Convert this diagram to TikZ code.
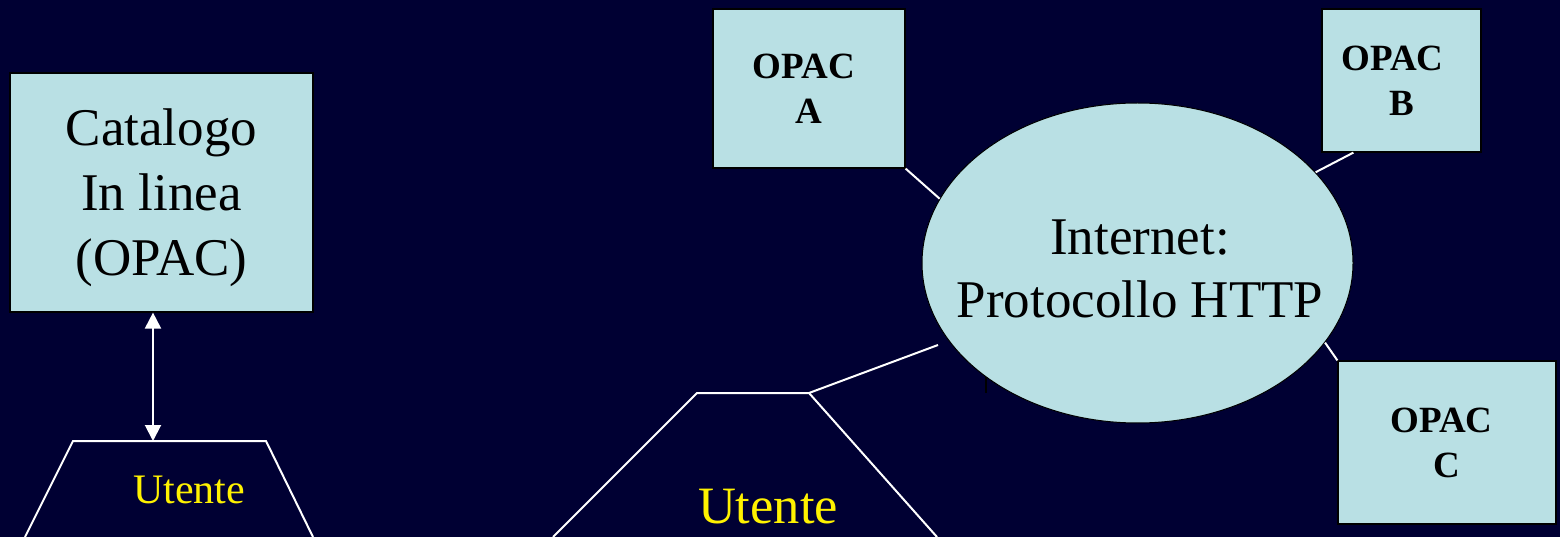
\documentclass[tikz,border=0pt]{standalone}
\usepackage{fontspec}
\setmainfont{Liberation Serif}
\usetikzlibrary{arrows.meta,shapes.geometric,calc}
\definecolor{bgnavy}{RGB}{0,0,51}
\definecolor{boxcyan}{RGB}{185,224,228}
\begin{document}
\begin{tikzpicture}[x=1pt,y=-1pt,
  box/.style={draw=black,line width=1.2pt,fill=boxcyan,inner sep=0pt,rectangle},
  opac/.style={box,font=\fontsize{37}{45}\selectfont\bfseries,align=center,text=black},
  wline/.style={draw=white,line width=2pt},
  bigtext/.style={font=\fontsize{53}{64}\selectfont,align=center,text=black,inner sep=0pt},
  utente/.style={text=yellow,anchor=base,inner sep=0pt},
  tip/.style={Triangle[width=16pt,length=16pt]}
  ]
\useasboundingbox (0,0) rectangle (1560,537);
\fill[bgnavy] (0,0) rectangle (1560,537);

% left part
\node[box,minimum width=303pt,minimum height=239pt] (cat) at (161.5,192.5) {};
\node[bigtext,font=\fontsize{53}{65}\selectfont] (cattxt) at (161.5,198) {Catalogo\\In linea\\(OPAC)};
\coordinate (lt) at (153,441);
\draw[wline] (25,537) -- (73,441) -- (266,441) -- (313,537);
\draw[wline,{Triangle[width=16pt,length=16pt]}-{Triangle[width=16pt,length=16pt]}] (lt |- cat.south) -- (lt);
\node[utente,font=\fontsize{42}{50}\selectfont] (u1) at (189,503) {Utente};

% right part
\node[draw=black,line width=1pt,fill=boxcyan,ellipse,minimum width=431pt,minimum height=320pt,inner sep=0pt] (inet) at (1137.5,263) {};
\node[bigtext,font=\fontsize{53}{63}\selectfont] (inettxt) at (1140,269) {Internet:\\Protocollo HTTP};

\node[opac,minimum width=192pt,minimum height=159pt] (oa) at (809,88.5) {OPAC\hspace*{10pt}\\A};
\node[opac,minimum width=159pt,minimum height=143pt] (ob) at (1401.5,80.5) {OPAC\hspace*{18pt}\\B};
\node[opac,minimum width=218pt,minimum height=163pt] (oc) at (1447,442.5) {OPAC\hspace*{11pt}\\C};

\draw[wline] (oa.south east) -- (inet.162.7);
\draw[wline] ($(ob.south west)+(32,0)$) -- (inet.27);
\draw[wline] (inet.-23.9) -- (oc.north west);

\coordinate (ur) at (809,393);
\coordinate (ue) at (938,345);
\draw[wline] (553,537) -- (697,393) -- (ur) -- (937,537);
\draw[wline] (ur) -- (ue);
\draw[black,line width=1.5pt] (inet.217) -- ++(0,16);
\node[utente,font=\fontsize{52.5}{60}\selectfont] (u2) at (768,523) {Utente};
\end{tikzpicture}
\end{document}
